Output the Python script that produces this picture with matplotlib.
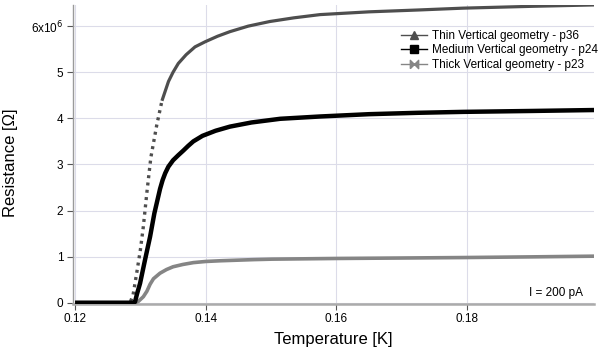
import matplotlib
matplotlib.use("Agg")
import matplotlib.pyplot as plt
from matplotlib.lines import Line2D
import numpy as np

plt.rcParams['font.family'] = ['Liberation Sans', 'DejaVu Sans']

# values (temperature in K, resistance in MOhm)
thin_T = [0.1200, 0.1250, 0.1285, 0.12888, 0.1295, 0.1300, 0.13045, 0.1310,
          0.1316, 0.1325, 0.1333, 0.1343, 0.1350, 0.1358, 0.1370, 0.13836,
          0.1399, 0.1418, 0.1437, 0.1465, 0.1498, 0.1535, 0.1575, 0.1650,
          0.1725, 0.1794, 0.1900, 0.1995]
thin_R = [0.0, 0.0, 0.03, 0.17, 0.70, 1.15, 1.65, 2.40,
          3.15, 3.85, 4.38, 4.80, 5.00, 5.19, 5.38, 5.55,
          5.66, 5.78, 5.88, 6.00, 6.10, 6.18, 6.25, 6.31,
          6.35, 6.39, 6.43, 6.46]

medium_T = [0.1200, 0.1250, 0.1290, 0.12918, 0.1295, 0.12995, 0.13071, 0.13148,
            0.13214, 0.1326, 0.13301, 0.1334, 0.1338, 0.13428, 0.1350, 0.1358,
            0.13657, 0.1373, 0.1381, 0.1395, 0.1415, 0.1437, 0.1470, 0.1514,
            0.1575, 0.1650, 0.1725, 0.1794, 0.1900, 0.1995]
medium_R = [0.0, 0.0, 0.0, 0.02, 0.20, 0.42, 0.93, 1.43,
            1.94, 2.22, 2.47, 2.66, 2.81, 2.95, 3.09, 3.20,
            3.30, 3.40, 3.50, 3.62, 3.73, 3.82, 3.91, 3.99,
            4.04, 4.09, 4.12, 4.14, 4.16, 4.18]

thick_T = [0.1200, 0.1250, 0.1292, 0.1297, 0.13045, 0.1310, 0.13148, 0.1320,
           0.1330, 0.1340, 0.1350, 0.1365, 0.1381, 0.1400, 0.1422, 0.1473,
           0.1501, 0.1600, 0.1700, 0.1794, 0.1900, 0.1995]
thick_R = [0.0, 0.0, 0.0, 0.03, 0.13, 0.25, 0.40, 0.52,
           0.64, 0.72, 0.78, 0.83, 0.87, 0.895, 0.91, 0.935,
           0.945, 0.96, 0.97, 0.98, 0.995, 1.01]

labels = ["Thin Vertical geometry - p36",
          "Medium Vertical geometry - p24",
          "Thick Vertical geometry - p23"]
ytick_labels = ["0", "1", "2", "3", "4", "5", r"6x10$^{6}$"]
xticks = [0.12, 0.14, 0.16, 0.18]

thin_col, medium_col, thick_col = '#4e4e4e', 'black', '#858585'
bowtie = [(-1, -1), (1, 1), (1, -1), (-1, 1), (-1, -1)]

fig = plt.figure(figsize=(6.0, 3.53), dpi=100)
ax = fig.add_axes([0.1217, 0.1402, 0.8683, 0.8456])

thin_T = np.array(thin_T)
thin_R = np.array(thin_R) * 1e6
steep = (thin_T >= 0.1285) & (thin_T <= 0.1333)
flat_hi = thin_T >= 0.1333

ax.plot(thick_T, np.array(thick_R) * 1e6, '-', color=thick_col, lw=2.6,
        solid_capstyle='butt', zorder=3)
# steep part of the thin curve shows as separate triangles
ax.plot(thin_T[steep], thin_R[steep], color=thin_col, lw=2.4,
        linestyle=(0, (0.9, 1.3)), dash_capstyle='butt', zorder=4)
ax.plot(thin_T[flat_hi], thin_R[flat_hi], '-', color=thin_col, lw=2.3,
        solid_capstyle='butt', zorder=4)
ax.plot(medium_T, np.array(medium_R) * 1e6, '-', color=medium_col, lw=3.2,
        solid_capstyle='butt', zorder=5)

ax.set_xlim(0.11969, 0.19942)
ax.set_ylim(-0.017e6, 6.458e6)
ax.set_xticks(xticks)
ax.set_xticklabels(["%.2f" % t for t in xticks])
ax.set_yticks(np.arange(7) * 1e6)
ax.set_yticklabels(ytick_labels)

ax.grid(True, color='#dcdce9', lw=0.8, zorder=0)
ax.set_axisbelow(True)
for s in ['top', 'right']:
    ax.spines[s].set_visible(False)
ax.spines['left'].set_color('#9a9a9a')
ax.spines['left'].set_linewidth(1.0)
ax.spines['bottom'].set_color('#ababab')
ax.spines['bottom'].set_linewidth(1.8)
ax.tick_params(direction='out', length=4, width=0.8, color='#555555',
               labelsize=8.5, labelcolor='black', pad=3)

ax.set_xlabel("Temperature [K]", fontsize=12, labelpad=5)
ax.set_ylabel("Resistance [\u03a9]", fontsize=12)
ax.yaxis.set_label_coords(-0.105, 0.47)

handles = [Line2D([], [], color=thin_col, lw=1.0, marker='^', ms=6),
           Line2D([], [], color=medium_col, lw=1.0, marker='s', ms=6),
           Line2D([], [], color=thick_col, lw=1.0, marker=bowtie, ms=6)]
ax.legend(handles, labels, loc='upper right', bbox_to_anchor=(1.022, 0.94),
          frameon=False, fontsize=8.5, handlelength=2.2, handletextpad=0.45,
          labelspacing=0.2, borderaxespad=0.2)

ax.text(0.1978, 0.22e6, "I = 200 pA", fontsize=8.5, ha='right', va='center')

fig.savefig("out.png", dpi=100)
